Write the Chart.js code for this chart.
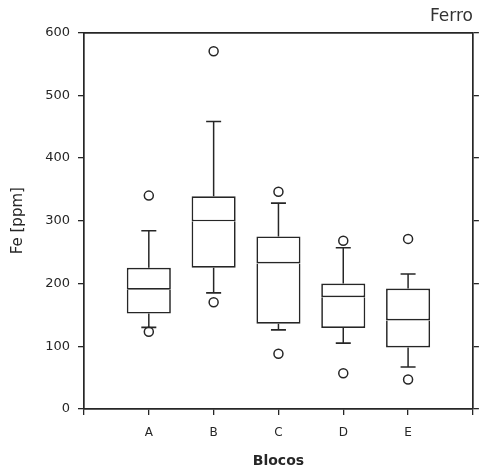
<!DOCTYPE html>
<html>
<head>
<meta charset="utf-8">
<script src="https://cdn.jsdelivr.net/npm/chart.js@4/dist/chart.umd.min.js"></script>
<style>
  html, body { margin: 0; padding: 0; background: #ffffff; }
  canvas { display: block; }
</style>
</head>
<body>
<canvas id="c" width="482" height="476"></canvas>
<script>
// ---- data ----
const categories   = ['A', 'B', 'C', 'D', 'E'];
const whiskerLow   = [130, 185, 126, 105, 67];
const quartile1    = [152, 225, 136, 129, 98];
const medians      = [190, 299, 232, 178, 141];
const quartile3    = [225, 339, 275, 200, 192];
const whiskerHigh  = [284, 458, 328, 257, 215];
const outliersLow  = [123, 170, 88, 57, 47];
const outliersHigh = [340, 570, 346, 268, 271];
const yTicks       = [0, 100, 200, 300, 400, 500, 600];

const INK = '#262626';
const pos = i => i + 1;

const lowerHalf = categories.map((c, i) => ({ x: pos(i), y: [quartile1[i], medians[i]] }));
const upperHalf = categories.map((c, i) => ({ x: pos(i), y: [medians[i], quartile3[i]] }));
const whiskers = [];
categories.forEach((c, i) => {
  whiskers.push({ x: pos(i), y: quartile3[i] }, { x: pos(i), y: whiskerHigh[i] }, { x: pos(i), y: null });
  whiskers.push({ x: pos(i), y: quartile1[i] }, { x: pos(i), y: whiskerLow[i] }, { x: pos(i), y: null });
});
const caps = [];
categories.forEach((c, i) => {
  caps.push({ x: pos(i), y: whiskerHigh[i] }, { x: pos(i), y: whiskerLow[i] });
});
const outliers = [];
categories.forEach((c, i) => {
  outliers.push({ x: pos(i), y: outliersLow[i] }, { x: pos(i), y: outliersHigh[i] });
});

const tickFont = { family: 'DejaVu Sans', size: 13 };

new Chart(document.getElementById('c'), {
  type: 'bar',
  data: {
    datasets: [
      { type: 'scatter', data: outliers, pointStyle: 'circle', pointRadius: 4.5,
        pointBorderWidth: 1.5, borderColor: INK, backgroundColor: 'rgba(0,0,0,0)' },
      { type: 'scatter', data: caps, pointStyle: 'line', pointRadius: 7.5,
        pointBorderWidth: 1.6, borderColor: INK, backgroundColor: INK },
      { type: 'scatter', data: whiskers, showLine: true, spanGaps: false, pointRadius: 0,
        borderWidth: 1.5, borderColor: INK },
      { data: upperHalf, grouped: false, backgroundColor: '#ffffff', borderColor: INK,
        borderWidth: 1.7, borderSkipped: false, barPercentage: 0.68, categoryPercentage: 1 },
      { data: lowerHalf, grouped: false, backgroundColor: '#ffffff', borderColor: INK,
        borderWidth: 1.7, borderSkipped: 'end', barPercentage: 0.68, categoryPercentage: 1 }
    ]
  },
  options: {
    responsive: false,
    animation: false,
    events: [],
    layout: { padding: 0 },
    plugins: {
      legend: { display: false },
      tooltip: { enabled: false },
      title: {
        display: true, text: 'Ferro', align: 'end', color: '#333', fullSize: false,
        font: { family: 'DejaVu Sans', size: 17, weight: 'normal' },
        padding: { top: 6, bottom: 6 }
      }
    },
    scales: {
      x: {
        type: 'linear', position: 'bottom', min: 0, max: 6, offset: false,
        afterBuildTicks: s => { s.ticks = [0, 1, 2, 3, 4, 5, 6].map(v => ({ value: v })); },
        afterFit: s => { s.height = 67; s.paddingLeft = 0; s.paddingRight = 0; },
        ticks: {
          autoSkip: false, maxRotation: 0, color: INK, padding: 11,
          font: { family: 'DejaVu Sans', size: 12 },
          callback: v => categories[v - 1] || ''
        },
        grid: { drawOnChartArea: false, tickLength: 6, color: INK, lineWidth: 1.3, offset: false },
        border: { display: true, color: INK, width: 1.7 },
        title: {
          display: true, text: 'Blocos', color: INK,
          font: { family: 'DejaVu Sans', size: 14, weight: 'bold' },
          padding: { top: 0, bottom: 6 }
        }
      },
      xTop: {
        type: 'linear', position: 'top', min: 0, max: 6,
        afterFit: s => { s.height = 0; s.paddingLeft = 0; s.paddingRight = 0; },
        ticks: { display: false },
        grid: { drawOnChartArea: false, drawTicks: false, tickLength: 0 },
        border: { display: true, color: INK, width: 1.7 }
      },
      y: {
        type: 'linear', position: 'left', min: 0, max: 600,
        afterBuildTicks: s => { s.ticks = yTicks.map(v => ({ value: v })); },
        afterFit: s => { s.width = 84; },
        ticks: { color: INK, padding: 8, font: tickFont },
        grid: { drawOnChartArea: false, tickLength: 6, color: INK, lineWidth: 1.3 },
        border: { display: true, color: INK, width: 1.7 },
        title: {
          display: true, text: 'Fe [ppm]', color: INK,
          font: { family: 'DejaVu Sans', size: 15, weight: 'normal' },
          padding: { top: 9, bottom: 0 }
        }
      },
      yRight: {
        type: 'linear', position: 'right', min: 0, max: 600,
        afterBuildTicks: s => { s.ticks = yTicks.map(v => ({ value: v })); },
        afterFit: s => { s.width = 6; },
        ticks: { display: false },
        grid: { drawOnChartArea: false, tickLength: 6, color: INK, lineWidth: 1.3 },
        border: { display: true, color: INK, width: 1.7 }
      }
    }
  }
});
</script>
</body>
</html>
